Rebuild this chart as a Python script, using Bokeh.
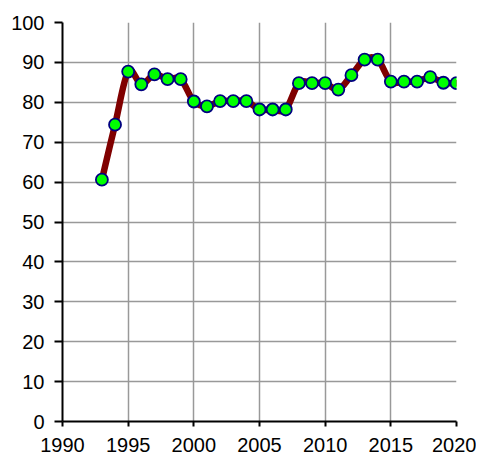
import numpy as np
from bokeh.plotting import figure
from bokeh.models import Range1d, FixedTicker, ColumnDataSource
from bokeh.embed import file_html
from bokeh.resources import INLINE

years = [1993, 1994, 1995, 1996, 1997, 1998, 1999, 2000, 2001, 2002,
         2003, 2004, 2005, 2006, 2007, 2008, 2009, 2010, 2011, 2012,
         2013, 2014, 2015, 2016, 2017, 2018, 2019, 2020]
values = [60.6, 74.4, 87.7, 84.5, 87.0, 85.8, 85.8, 80.2, 79.0, 80.3,
          80.3, 80.3, 78.2, 78.2, 78.2, 84.8, 84.8, 84.8, 83.2, 86.8,
          90.7, 90.7, 85.2, 85.2, 85.2, 86.3, 84.9, 84.8]
x_ticks = [1990, 1995, 2000, 2005, 2010, 2015, 2020]
y_ticks = [0, 10, 20, 30, 40, 50, 60, 70, 80, 90, 100]

FONT = "Liberation Sans"

p = figure(width=476, height=454, output_backend="svg", toolbar_location=None,
           x_range=Range1d(1990, 2020), y_range=Range1d(0, 100),
           min_border_left=62, min_border_right=20, min_border_top=22,
           min_border_bottom=32)
p.outline_line_color = None
p.background_fill_color = "white"

for ax in (p.xaxis[0], p.yaxis[0]):
    ax.axis_line_color = "black"
    ax.axis_line_width = 2
    ax.major_tick_line_color = "black"
    ax.major_tick_line_width = 2
    ax.major_tick_in = 0
    ax.minor_tick_line_color = None
    ax.major_label_text_font = FONT
    ax.major_label_text_font_size = "20px"
    ax.major_label_text_color = "black"

p.xaxis[0].ticker = FixedTicker(ticks=x_ticks)
p.yaxis[0].ticker = FixedTicker(ticks=y_ticks)
p.xaxis[0].major_tick_out = 5
p.xaxis[0].major_label_standoff = 11
p.yaxis[0].major_tick_out = 8
p.yaxis[0].major_label_standoff = 10

for g in (p.xgrid[0], p.ygrid[0]):
    g.grid_line_color = "#999999"
    g.grid_line_width = 1.5

# smoothed curve (Catmull-Rom as cubic Bezier segments)
xa = np.array(years, dtype=float)
ya = np.array(values, dtype=float)
xp = np.concatenate([[xa[0]], xa, [xa[-1]]])
yp = np.concatenate([[ya[0]], ya, [ya[-1]]])
n = len(xa)
seg = dict(x0=[], y0=[], x1=[], y1=[], cx0=[], cy0=[], cx1=[], cy1=[])
for i in range(n - 1):
    j = i + 1
    seg["x0"].append(xp[j]); seg["y0"].append(yp[j])
    seg["x1"].append(xp[j + 1]); seg["y1"].append(yp[j + 1])
    seg["cx0"].append(xp[j] + (xp[j + 1] - xp[j - 1]) / 6)
    seg["cy0"].append(yp[j] + (yp[j + 1] - yp[j - 1]) / 6)
    seg["cx1"].append(xp[j + 1] - (xp[j + 2] - xp[j]) / 6)
    seg["cy1"].append(yp[j + 1] - (yp[j + 2] - yp[j]) / 6)
p.bezier(x0="x0", y0="y0", x1="x1", y1="y1", cx0="cx0", cy0="cy0",
         cx1="cx1", cy1="cy1", source=ColumnDataSource(seg),
         line_color="#800000", line_width=6.5, line_cap="round")

p.scatter(years, values, size=12, marker="circle", fill_color="#00ff00",
          line_color="#000080", line_width=1.8)

open("out.html", "w").write(file_html(p, INLINE))
